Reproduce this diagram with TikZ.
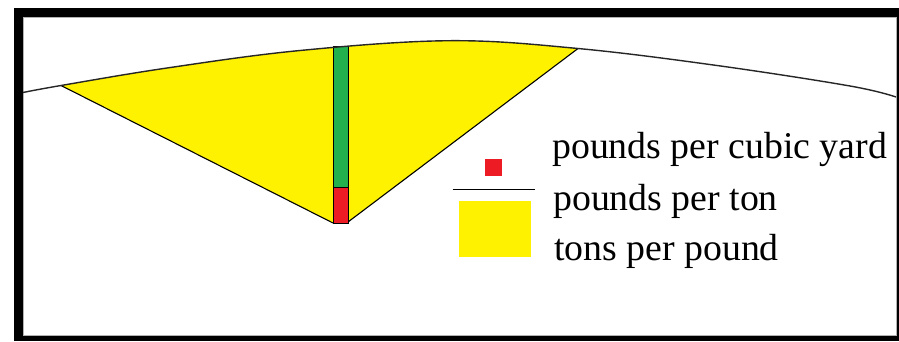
\documentclass[tikz,border=0pt]{standalone}
\usepackage{fontspec}
\setmainfont{Liberation Serif}
\definecolor{pyellow}{RGB}{255,242,0}
\definecolor{pgreen}{RGB}{34,177,76}
\definecolor{pred}{RGB}{237,28,36}
\begin{document}
\begin{tikzpicture}[x=1pt,y=-1pt,
  edge/.style={draw=black,line width=1.1pt},
  legendtext/.style={anchor=base west,inner sep=0pt,font=\fontsize{37.8}{40}\selectfont}]
\useasboundingbox (0,0) rectangle (899,341);
\fill[white] (0,0) rectangle (899,341);
% frame
\fill[black] (14,8) rectangle (899,341);
\fill[gray!60] (23,17) rectangle (896.5,336);
\fill[white] (24,18) rectangle (895.5,335);
\def\groundcurve{plot[smooth,tension=0.6] coordinates {(23,92.5) (61,85.5) (167,68) (300,50.5) (450,40.7) (578,48.5) (717,65.5) (850,86) (896,97)}}
% yellow wedge clipped below the curve
\begin{scope}
  \clip \groundcurve -- (896,336) -- (23,336) -- cycle;
  \fill[pyellow] (61,85.5) -- (61,0) -- (578,0) -- (578,48.5) -- (348,222) -- (333,223) -- cycle;
\end{scope}
\draw[edge] (61,85.5) -- (333,223);
\draw[edge] (348,222) -- (578,48.5);
% bar
\filldraw[fill=pgreen,draw=black,line width=1pt] (333,46) rectangle (348,187.5);
\filldraw[fill=pred,draw=black,line width=1pt] (333,187.5) rectangle (348,223);
% ground curve
\draw[black!85,line width=1.4pt] \groundcurve;
% legend
\fill[pred] (485,158.5) rectangle (502,176);
\draw[black,line width=1.4pt] (452.5,189.3) -- (534.5,189.3);
\fill[pyellow] (458.5,200.5) rectangle (530.5,256.5);
\node[legendtext] (t1) at (552,158) {pounds per cubic yard};
\node[legendtext] (t2) at (553,210) {pounds per ton};
\node[legendtext] (t3) at (554,260) {tons per pound};
\end{tikzpicture}
\end{document}
